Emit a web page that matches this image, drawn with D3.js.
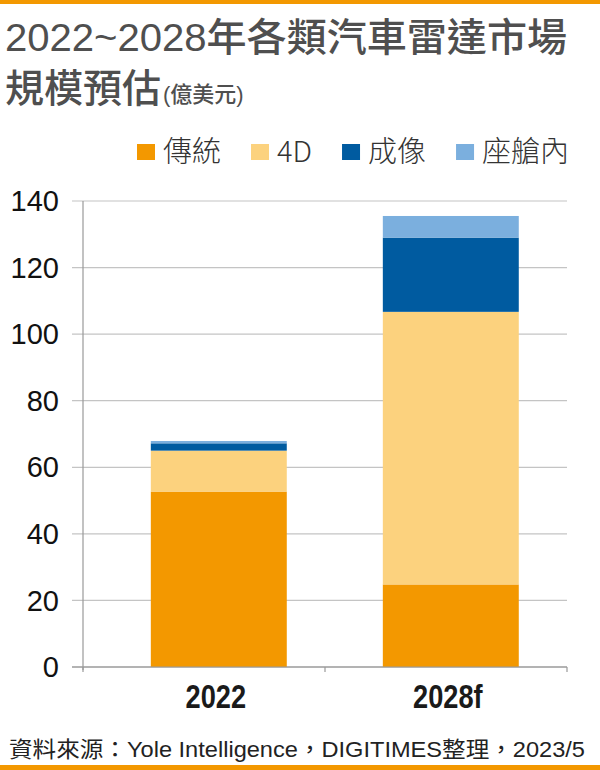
<!DOCTYPE html>
<html>
<head>
<meta charset="utf-8">
<script src="https://cdn.jsdelivr.net/npm/d3@7/dist/d3.min.js"></script>
<style>
  html, body { margin: 0; padding: 0; background: #fff; }
  svg { display: block; }
</style>
</head>
<body>
<svg id="chart" width="600" height="770"></svg>
<script>
// ---- Data ----
const categories = ["2022", "2028f"];
const seriesNames = ["傳統", "4D", "成像", "座艙內"];
const traditional = [52.7, 24.8];
const fourD = [12.3, 81.9];
const imaging = [2.2, 22.3];
const cabin = [0.7, 6.5];
const yTicks = [0, 20, 40, 60, 80, 100, 120, 140];
const seriesColors = ["#F39800", "#FCD27E", "#005BA0", "#7BAFDE"];

const titleLine1 = "2022~2028年各類汽車雷達市場";
const titleLine2 = "規模預估";
const titleUnit = "(億美元)";
const sourceText = "資料來源：Yole Intelligence，DIGITIMES整理，2023/5";

// ---- Layout ----
const W = 600, H = 770;
const plotLeft = 83, plotRight = 567, plotTop = 201, plotBottom = 667;
const svg = d3.select("#chart");
const cjk = "'Noto Sans CJK TC', 'Noto Sans', sans-serif";
const latin = "'Liberation Sans', Arial, Helvetica, sans-serif";
const mixed = "'Liberation Sans', 'Noto Sans CJK TC', sans-serif";

// frame lines
svg.append("rect").attr("x", 0).attr("y", 0).attr("width", W).attr("height", 4).attr("fill", "#F39800");
svg.append("rect").attr("x", 0).attr("y", 765).attr("width", W).attr("height", 5).attr("fill", "#F39800");

// title
const t1 = svg.append("text").attr("x", 5).attr("y", 51)
  .attr("font-family", mixed).attr("font-size", 39).attr("font-weight", 500)
  .attr("fill", "#4f4f4f").text(titleLine1);
t1.attr("textLength", 562).attr("lengthAdjust", "spacingAndGlyphs");
const t2 = svg.append("text").attr("x", 5).attr("y", 102)
  .attr("font-family", mixed).attr("font-weight", 500).attr("fill", "#4f4f4f");
t2.append("tspan").attr("font-size", 39).text(titleLine2);
t2.append("tspan").attr("font-size", 22).attr("dx", 2).text(titleUnit);

// scales
const y = d3.scaleLinear().domain([0, 140]).range([plotBottom, plotTop]);
const x = d3.scaleBand().domain(categories).range([102.8, 566.8])
  .paddingInner(0.414).paddingOuter(0.207);

// gridlines
svg.append("g").selectAll("line").data(yTicks).join("line")
  .attr("x1", plotLeft - 11).attr("x2", plotRight)
  .attr("y1", d => y(d)).attr("y2", d => y(d))
  .attr("stroke", d => d === 0 ? "#999" : "#c4c4c4").attr("stroke-width", 1.2);

// y tick labels
svg.append("g").selectAll("text").data(yTicks).join("text")
  .attr("x", 59).attr("y", d => y(d)).attr("dy", "0.35em")
  .attr("text-anchor", "end").attr("font-family", latin).attr("font-size", 29)
  .attr("fill", "#111").text(d => d);

// stacked data
const table = categories.map((c, i) => ({
  cat: c, "傳統": traditional[i], "4D": fourD[i], "成像": imaging[i], "座艙內": cabin[i]
}));
const stacked = d3.stack().keys(seriesNames)(table);

svg.append("g").selectAll("g").data(stacked).join("g")
  .attr("fill", (d, i) => seriesColors[i])
  .selectAll("rect").data(d => d).join("rect")
  .attr("x", d => x(d.data.cat)).attr("width", x.bandwidth())
  .attr("y", d => y(d[1])).attr("height", d => y(d[0]) - y(d[1]));

// axes lines
svg.append("line").attr("x1", plotLeft).attr("x2", plotLeft)
  .attr("y1", plotTop).attr("y2", plotBottom + 3).attr("stroke", "#999").attr("stroke-width", 1.2);
svg.append("line").attr("x1", plotLeft - 11).attr("x2", plotRight)
  .attr("y1", plotBottom).attr("y2", plotBottom).attr("stroke", "#999").attr("stroke-width", 1.2);
[plotLeft, (plotLeft + plotRight) / 2, plotRight].forEach(px => {
  svg.append("line").attr("x1", px).attr("x2", px)
    .attr("y1", plotBottom).attr("y2", plotBottom + 5).attr("stroke", "#999").attr("stroke-width", 1.2);
});

// x labels (condensed bold)
svg.append("g").selectAll("text").data(categories).join("text")
  .attr("x", d => x(d) + x.bandwidth() / 2 - 3).attr("y", 708)
  .attr("text-anchor", "middle").attr("font-family", latin).attr("font-weight", 700)
  .attr("font-size", 34).attr("fill", "#1a1a1a").text(d => d)
  .each(function() {
    const w = this.getComputedTextLength();
    d3.select(this).attr("textLength", w * 0.8).attr("lengthAdjust", "spacingAndGlyphs");
  });

// legend
const legend = svg.append("g");
let lx = 137;
seriesNames.forEach((name, i) => {
  legend.append("rect").attr("x", lx).attr("y", 144).attr("width", 18).attr("height", 16)
    .attr("fill", seriesColors[i]);
  const tx = legend.append("text").attr("x", lx + 26).attr("y", 152).attr("dy", "0.36em")
    .attr("font-family", cjk).attr("font-weight", 300).attr("font-size", 29)
    .attr("fill", "#333").text(name);
  const w = tx.node().getComputedTextLength();
  lx = lx + 26 + w + 30;
});

// source
svg.append("text").attr("x", 9).attr("y", 757)
  .attr("font-family", mixed).attr("font-size", 22)
  .attr("fill", "#222").text(sourceText)
  .attr("textLength", 576).attr("lengthAdjust", "spacingAndGlyphs");
</script>
</body>
</html>
